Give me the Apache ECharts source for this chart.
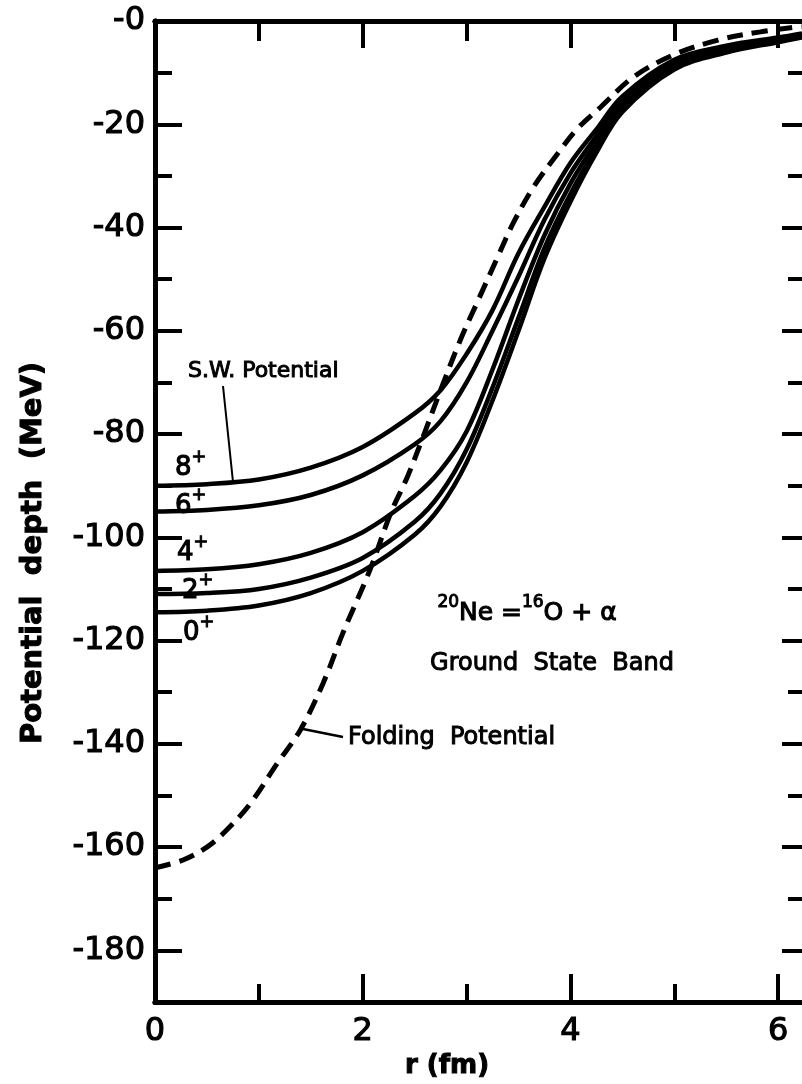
<!DOCTYPE html>
<html>
<head>
<meta charset="utf-8">
<script src="https://cdn.jsdelivr.net/npm/echarts@6/dist/echarts.min.js"></script>
<style>
html, body { margin: 0; padding: 0; background: #fff; }
#MyChart { width: 802px; height: 1084px; }
</style>
</head>
<body>
<div id="MyChart"></div>
<script>
// r (fm) grid for the S.W. potentials
var rGrid = [0, 0.5, 1, 1.5, 2, 2.5, 2.75, 3, 3.25, 3.5, 3.75, 4, 4.25, 4.5, 5, 5.5, 6, 6.23];
var sw8 = [-90, -89.7, -88.8, -86.5, -82.5, -76, -71.5, -64.5, -56, -45, -36, -27.5, -21, -14.6, -7.5, -4.8, -3.2, -2.4];
var sw6 = [-95, -94.7, -93.8, -91.8, -88, -82, -77.5, -70, -60, -49.5, -38.5, -29.5, -22.3, -15.3, -8, -5.1, -3.4, -2.6];
var sw4 = [-106.5, -106.2, -105.2, -103, -99, -92, -87, -79.5, -67.5, -54, -41.5, -31.5, -23.5, -16.4, -8.6, -5.5, -3.6, -2.8];
var sw2 = [-111, -110.8, -110, -107.8, -104, -97, -91.5, -83, -71, -57.5, -44, -33.5, -24.7, -17, -9, -5.8, -3.8, -3];
var sw0 = [-114.5, -114.2, -113.2, -110.8, -106.5, -99.5, -94, -85.5, -73.5, -60, -46, -35, -25.5, -17.6, -9.4, -6.1, -4.1, -3.2];

// folding potential (dashed)
var foldR = [0, 0.27, 0.5, 0.69, 0.92, 1.18, 1.4, 1.62, 1.81, 2.07, 2.27, 2.43, 2.58, 2.75, 2.94, 3.1, 3.3, 3.45, 3.65, 3.88, 4.07, 4.29, 4.61, 5, 5.42, 5.83, 6.12, 6.23];
var foldV = [-164, -162.5, -160, -156.7, -151.5, -143.7, -137.3, -128.2, -118.5, -106.3, -95.3, -88.3, -80.6, -71.5, -61.8, -54.6, -45.7, -39.1, -32, -25.6, -20.8, -16.7, -10.8, -6.5, -3.7, -2.1, -1.3, -1.1];

// ticks
var xMajor = [0, 2, 4, 6];
var xMinor = [1, 3, 5];
var yMajor = [0, -20, -40, -60, -80, -100, -120, -140, -160, -180];
var yMinor = [-10, -30, -50, -70, -90, -110, -130, -150, -170];

var X_MAX = 6.23, Y_MIN = -190;
var FONT = '"DejaVu Sans", sans-serif';

function pairs(xs, ys) {
	var out = [];
	for (var i = 0; i < xs.length; i++) out.push([xs[i], ys[i]]);
	return out;
}

function xAxisOf(pos, ticks, len, labels) {
	return {
		type: 'value', min: 0, max: X_MAX, position: pos,
		axisLine: { show: true, onZero: false, lineStyle: { color: '#000', width: 5 } },
		axisTick: { show: true, inside: true, length: len, customValues: ticks, lineStyle: { color: '#000', width: 4 } },
		axisLabel: labels ? {
			show: true, customValues: xMajor, margin: 14, color: '#000', fontSize: 32, fontFamily: FONT,
			textBorderColor: '#000', textBorderWidth: 1.1
		} : { show: false },
		splitLine: { show: false }
	};
}

function yAxisOf(pos, ticks, len, labels) {
	return {
		type: 'value', min: Y_MIN, max: 0, position: pos,
		axisLine: { show: pos === 'left', onZero: false, lineStyle: { color: '#000', width: 5 } },
		axisTick: { show: true, inside: true, length: len, customValues: ticks, lineStyle: { color: '#000', width: 4 } },
		axisLabel: labels ? {
			show: true, customValues: yMajor, margin: 10, color: '#000', fontSize: 32, fontFamily: FONT,
			textBorderColor: '#000', textBorderWidth: 1.1,
			formatter: function(v) { return '-' + Math.abs(v); }
		} : { show: false },
		splitLine: { show: false }
	};
}

function solid(name, ys) {
	return {
		name: name, type: 'line', data: pairs(rGrid, ys),
		showSymbol: false, smooth: 0.35,
		lineStyle: { color: '#000', width: 4.5 }
	};
}

function txt(x, y, s, size, align, extra) {
	var el = {
		type: 'text', x: x, y: y, z: 10,
		style: {
			text: s, font: (extra && extra.bold ? 'bold ' : '') + size + 'px ' + FONT,
			fill: '#000', align: align || 'left', verticalAlign: 'middle',
			stroke: '#000', lineWidth: 1
		}
	};
	if (extra && extra.rotation) el.rotation = extra.rotation;
	return el;
}

// text with superscripts, written as {n|..}{s|..}
function supTxt(x, y, s, size, align) {
	return {
		type: 'text', x: x, y: y, z: 10,
		style: {
			text: s, align: align || 'left', verticalAlign: 'middle',
			rich: {
				n: { fontSize: size, fontFamily: FONT, fill: '#000', stroke: '#000', lineWidth: 1.1, verticalAlign: 'bottom', lineHeight: size * 1.25 },
				s: { fontSize: size * 0.68, fontFamily: FONT, fill: '#000', stroke: '#000', lineWidth: 1, verticalAlign: 'top', lineHeight: size * 0.8 }
			}
		}
	};
}

var option = {
	backgroundColor: '#fff',
	animation: false,
	grid: { left: 155, top: 21, width: 647, height: 981, containLabel: false },
	xAxis: [
		xAxisOf('bottom', xMajor, 28, true),
		xAxisOf('bottom', xMinor, 18, false),
		xAxisOf('top', xMajor, 27, false),
		xAxisOf('top', xMinor, 20, false)
	],
	yAxis: [
		yAxisOf('left', yMajor, 27, true),
		yAxisOf('left', yMinor, 17, false),
		yAxisOf('right', yMajor, 20, false),
		yAxisOf('right', yMinor, 14, false)
	],
	series: [
		solid('8+', sw8),
		solid('6+', sw6),
		solid('4+', sw4),
		solid('2+', sw2),
		solid('0+', sw0),
		{
			name: 'Folding Potential', type: 'line', data: pairs(foldR, foldV),
			showSymbol: false, smooth: 0.35,
			lineStyle: { color: '#000', width: 5, type: [16, 9] }
		}
	],
	graphic: [
		txt(33, 553, 'Potential  depth  (MeV)', 29, 'center', { bold: true, rotation: Math.PI / 2 }),
		txt(447, 1066, 'r (fm)', 26, 'center', { bold: true }),
		txt(188, 371, 'S.W. Potential', 22, 'left'),
		{ type: 'line', shape: { x1: 223, y1: 386, x2: 233, y2: 482 }, style: { stroke: '#000', lineWidth: 2 } },
		supTxt(175, 465, '{n|8}{s|+}', 26, 'left'),
		supTxt(175, 503, '{n|6}{s|+}', 26, 'left'),
		supTxt(177, 550, '{n|4}{s|+}', 26, 'left'),
		supTxt(182, 588, '{n|2}{s|+}', 26, 'left'),
		supTxt(183, 630, '{n|0}{s|+}', 26, 'left'),
		supTxt(527, 610, '{s|20}{n|Ne =}{s|16}{n|O + α}', 25, 'center'),
		txt(552, 664, 'Ground  State  Band', 24, 'center'),
		txt(348, 738, 'Folding  Potential', 24, 'left'),
		{ type: 'line', shape: { x1: 303, y1: 729, x2: 343, y2: 737 }, style: { stroke: '#000', lineWidth: 2.5 } }
	]
};

var myChart1 = echarts.init(document.getElementById('MyChart'));
myChart1.setOption(option);
</script>
</body>
</html>
